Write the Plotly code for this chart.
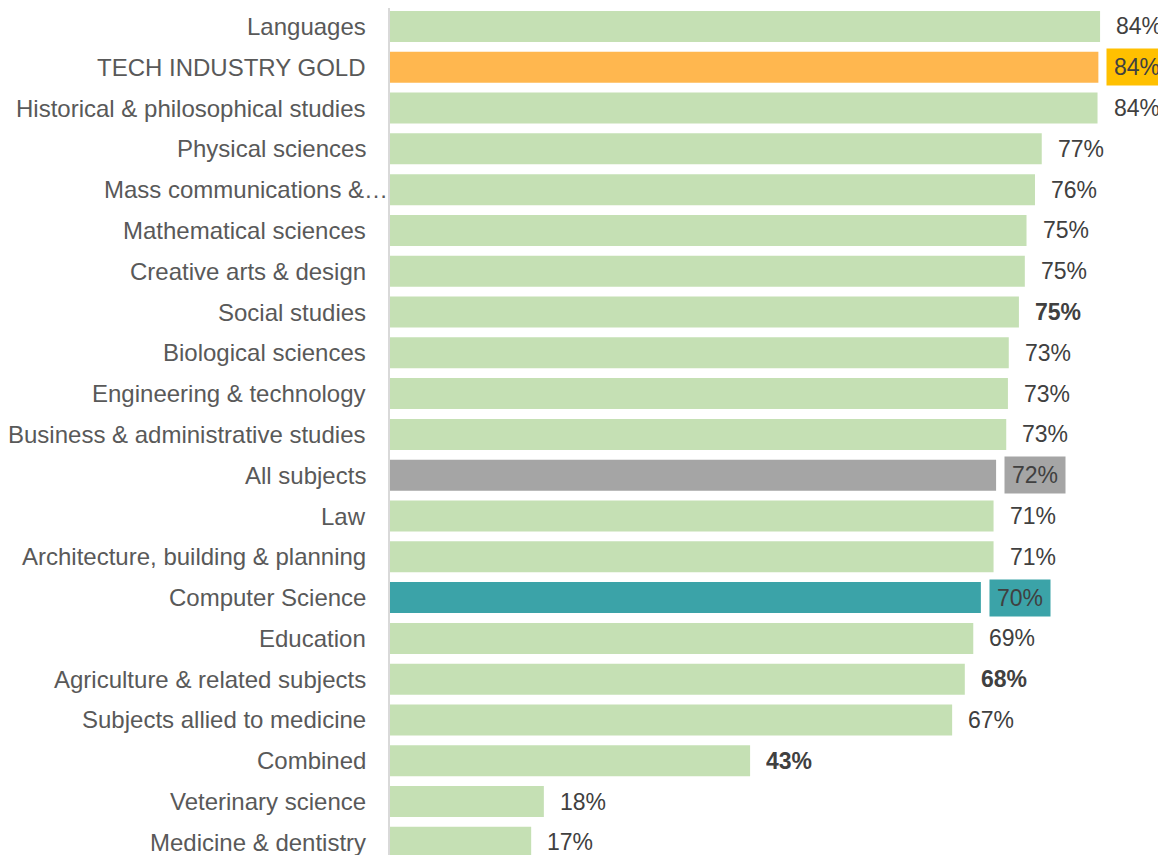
import plotly.graph_objects as go

categories = [
    "Languages", "TECH INDUSTRY GOLD", "Historical & philosophical studies",
    "Physical sciences", "Mass communications &…", "Mathematical sciences",
    "Creative arts & design", "Social studies", "Biological sciences",
    "Engineering & technology", "Business & administrative studies",
    "All subjects", "Law", "Architecture, building & planning",
    "Computer Science", "Education", "Agriculture & related subjects",
    "Subjects allied to medicine", "Combined", "Veterinary science",
    "Medicine & dentistry",
]
values = [84.0, 83.8, 83.7, 77.1, 76.3, 75.3, 75.1, 74.4, 73.2, 73.1, 72.9,
          71.7, 71.4, 71.4, 69.9, 69.0, 68.0, 66.5, 42.6, 18.2, 16.7]
labels = ["84%", "84%", "84%", "77%", "76%", "75%", "75%", "75%", "73%", "73%",
          "73%", "72%", "71%", "71%", "70%", "69%", "68%", "67%", "43%", "18%", "17%"]
bold_labels = {"Social studies", "Agriculture & related subjects", "Combined"}
truncated_labels = {"Mass communications &…"}

GREEN = "#C5E0B4"
special_bar = {"TECH INDUSTRY GOLD": "#FFB74F", "All subjects": "#A5A5A5",
               "Computer Science": "#3BA3A8"}
special_box = {"TECH INDUSTRY GOLD": "#FFC000", "All subjects": "#A5A5A5",
               "Computer Science": "#3BA3A8"}

colors = [special_bar.get(c, GREEN) for c in categories]
FONT = "Arial, Liberation Sans, sans-serif"

fig = go.Figure(go.Bar(
    x=values, y=categories, orientation="h",
    marker=dict(color=colors, line=dict(width=0)),
    hoverinfo="skip",
))

annotations = []
for cat, v, lab in zip(categories, values, labels):
    txt = f"<b>{lab}</b>" if cat in bold_labels else lab
    annotations.append(dict(
        x=v, y=cat, xref="x", yref="y", text=txt, showarrow=False,
        xanchor="left", yanchor="middle", xshift=8,
        width=46, height=22, borderpad=7,
        bgcolor=special_box.get(cat, "rgba(0,0,0,0)"),
        font=dict(family=FONT, size=23, color="#404040"),
    ))
    annotations.append(dict(
        x=0, y=cat, xref="paper", yref="y", text=cat, showarrow=False,
        xanchor="right", yanchor="middle",
        xshift=0 if cat in truncated_labels else -22,
        font=dict(family=FONT, size=24, color="#595959"),
    ))

fig.update_layout(
    width=1158, height=847,
    margin=dict(l=382, r=0, t=0, b=0, autoexpand=False),
    paper_bgcolor="white", plot_bgcolor="white",
    bargap=0.24, showlegend=False,
    xaxis=dict(range=[0, 91.8], visible=False, fixedrange=True),
    yaxis=dict(
        categoryorder="array", categoryarray=categories,
        range=[20.31, -0.453], showticklabels=False, ticks="",
        showline=True, linecolor="#D9D9D9", linewidth=2,
        showgrid=False, zeroline=False, fixedrange=True,
    ),
    annotations=annotations,
)

fig.write_html("out.html")
